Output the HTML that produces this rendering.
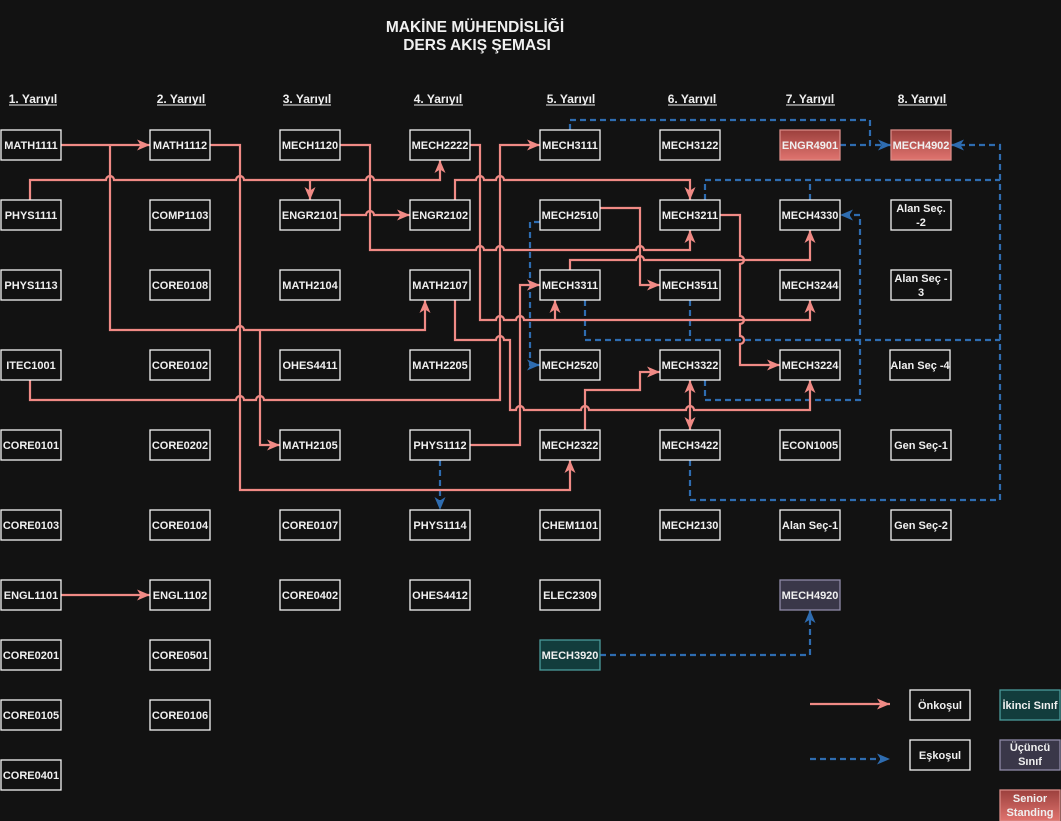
<!DOCTYPE html>
<html>
<head>
<meta charset="utf-8">
<style>
  html,body{margin:0;padding:0;background:#121212;}
  svg{display:block;}
  text{font-family:"Liberation Sans",Arial,sans-serif;font-weight:bold;fill:#f0f0f0;}
</style>
</head>
<body>
<svg width="1061" height="821" viewBox="0 0 1061 821" xmlns="http://www.w3.org/2000/svg">
  <defs>
    <marker id="ap" markerWidth="14" markerHeight="12" refX="13" refY="5.5" orient="auto-start-reverse" markerUnits="userSpaceOnUse">
      <path d="M0,0 L13,5.5 L0,11 L3.5,5.5z" fill="#f08a85"/>
    </marker>
    <marker id="ab" markerWidth="14" markerHeight="12" refX="13" refY="5.5" orient="auto" markerUnits="userSpaceOnUse">
      <path d="M0,0 L13,5.5 L0,11 L3.5,5.5z" fill="#2e6cb0"/>
    </marker>
    <linearGradient id="gr" x1="0" y1="0" x2="0" y2="1">
      <stop offset="0" stop-color="#9c403d"/>
      <stop offset="1" stop-color="#e0746f"/>
    </linearGradient>
  </defs>
  <rect x="0" y="0" width="1061" height="821" fill="#121212"/>

  <!-- Title -->
  <text x="475" y="32" font-size="15.5" text-anchor="middle">MAKİNE MÜHENDİSLİĞİ</text>
  <text x="477" y="50" font-size="15.5" text-anchor="middle">DERS AKIŞ ŞEMASI</text>

  <!-- Headers -->
  <g font-size="12" text-anchor="middle">
    <text x="33" y="103">1. Yarıyıl</text>
    <text x="181" y="103">2. Yarıyıl</text>
    <text x="307" y="103">3. Yarıyıl</text>
    <text x="438" y="103">4. Yarıyıl</text>
    <text x="571" y="103">5. Yarıyıl</text>
    <text x="692" y="103">6. Yarıyıl</text>
    <text x="810" y="103">7. Yarıyıl</text>
    <text x="922" y="103">8. Yarıyıl</text>
  </g>
  <g stroke="#f0f0f0" stroke-width="1">
    <line x1="9" y1="105" x2="57" y2="105"/>
    <line x1="157" y1="105" x2="206" y2="105"/>
    <line x1="283" y1="105" x2="331" y2="105"/>
    <line x1="414" y1="105" x2="463" y2="105"/>
    <line x1="546" y1="105" x2="595" y2="105"/>
    <line x1="668" y1="105" x2="717" y2="105"/>
    <line x1="786" y1="105" x2="835" y2="105"/>
    <line x1="898" y1="105" x2="947" y2="105"/>
  </g>

  <!-- Blue dashed connectors -->
  <g fill="none" stroke="#2e6cb0" stroke-width="2.2" stroke-dasharray="6 4">
    <path d="M570,130 V120 H870 V145 H891" marker-end="url(#ab)"/>
    <path d="M840,145 H870"/>
    <path d="M690,460 V500 H1000 V145 H951" marker-end="url(#ab)"/>
    <path d="M705,200 V180 H1000"/>
    <path d="M810,200 V180"/>
    <path d="M705,380 V400 H860 V215 H840" marker-end="url(#ab)"/>
    <path d="M585,300 V340 H1000"/>
    <path d="M690,300 V340"/>
    <path d="M540,222 H530 V365 H540" marker-end="url(#ab)"/>
    <path d="M530,285 H540" marker-end="url(#ab)"/>
    <path d="M440,460 V510" marker-end="url(#ab)"/>
    <path d="M600,655 H810 V610" marker-end="url(#ab)"/>
    <path d="M810,759 H890" marker-end="url(#ab)"/>
  </g>

  <!-- Pink connectors -->
  <g fill="none" stroke="#f08a85" stroke-width="2.2">
    <path d="M61,145 H150" marker-end="url(#ap)"/>
    <path d="M110,145 V330 H236 a4,4 0 0 1 8,0 H425 V300" marker-end="url(#ap)"/>
    <path d="M260,330 V445 H280" marker-end="url(#ap)"/>
    <path d="M30,200 V180 H106 a4,4 0 0 1 8,0 H236 a4,4 0 0 1 8,0 H366 a4,4 0 0 1 8,0 H440 V160" marker-end="url(#ap)"/>
    <path d="M310,180 V200" marker-end="url(#ap)"/>
    <path d="M340,145 H370 V250 H476 a4,4 0 0 1 8,0 H496 a4,4 0 0 1 8,0 H636 a4,4 0 0 1 8,0 H690 V230" marker-end="url(#ap)"/>
    <path d="M340,215 H366 a4,4 0 0 1 8,0 H410" marker-end="url(#ap)"/>
    <path d="M210,145 H240 V490 H570 V460" marker-end="url(#ap)"/>
    <path d="M30,380 V400 H236 a4,4 0 0 1 8,0 H256 a4,4 0 0 1 8,0 H500 V145 H540" marker-end="url(#ap)"/>
    <path d="M470,145 H480 V320 H496 a4,4 0 0 1 8,0 H516 a4,4 0 0 1 8,0 H810 V300" marker-end="url(#ap)"/>
    <path d="M555,320 V300" marker-end="url(#ap)"/>
    <path d="M455,200 V180 H476 a4,4 0 0 1 8,0 H496 a4,4 0 0 1 8,0 H690 V200" marker-end="url(#ap)"/>
    <path d="M600,208 H640 V285 H660" marker-end="url(#ap)"/>
    <path d="M570,270 V260 H636 a4,4 0 0 1 8,0 H810 V230" marker-end="url(#ap)"/>
    <path d="M720,215 H740 V256 a4,4 0 0 1 0,8 V316 a4,4 0 0 1 0,8 V336 a4,4 0 0 1 0,8 V365 H780" marker-end="url(#ap)"/>
    <path d="M455,300 V340 H496 a4,4 0 0 1 8,0 H510 V410 H516 a4,4 0 0 1 8,0 H581 a4,4 0 0 1 8,0 H686 a4,4 0 0 1 8,0 H810 V380" marker-end="url(#ap)"/>
    <path d="M470,445 H520 V285 H540" marker-end="url(#ap)"/>
    <path d="M585,430 V390 H640 V372 H660" marker-end="url(#ap)"/>
    <path d="M690,380 V430" marker-start="url(#ap)" marker-end="url(#ap)"/>
    <path d="M61,595 H150" marker-end="url(#ap)"/>
    <path d="M810,704 H890" marker-end="url(#ap)"/>
  </g>

  <!-- Boxes -->
  <g fill="#121212" stroke="#f4f4f4" stroke-width="1.3">
    <rect x="1" y="130" width="60" height="30"/>
    <rect x="1" y="200" width="60" height="30"/>
    <rect x="1" y="270" width="60" height="30"/>
    <rect x="1" y="350" width="60" height="30"/>
    <rect x="1" y="430" width="60" height="30"/>
    <rect x="1" y="510" width="60" height="30"/>
    <rect x="1" y="580" width="60" height="30"/>
    <rect x="1" y="640" width="60" height="30"/>
    <rect x="1" y="700" width="60" height="30"/>
    <rect x="1" y="760" width="60" height="30"/>
    <rect x="150" y="130" width="60" height="30"/>
    <rect x="150" y="200" width="60" height="30"/>
    <rect x="150" y="270" width="60" height="30"/>
    <rect x="150" y="350" width="60" height="30"/>
    <rect x="150" y="430" width="60" height="30"/>
    <rect x="150" y="510" width="60" height="30"/>
    <rect x="150" y="580" width="60" height="30"/>
    <rect x="150" y="640" width="60" height="30"/>
    <rect x="150" y="700" width="60" height="30"/>
    <rect x="280" y="130" width="60" height="30"/>
    <rect x="280" y="200" width="60" height="30"/>
    <rect x="280" y="270" width="60" height="30"/>
    <rect x="280" y="350" width="60" height="30"/>
    <rect x="280" y="430" width="60" height="30"/>
    <rect x="280" y="510" width="60" height="30"/>
    <rect x="280" y="580" width="60" height="30"/>
    <rect x="410" y="130" width="60" height="30"/>
    <rect x="410" y="200" width="60" height="30"/>
    <rect x="410" y="270" width="60" height="30"/>
    <rect x="410" y="350" width="60" height="30"/>
    <rect x="410" y="430" width="60" height="30"/>
    <rect x="410" y="510" width="60" height="30"/>
    <rect x="410" y="580" width="60" height="30"/>
    <rect x="540" y="130" width="60" height="30"/>
    <rect x="540" y="200" width="60" height="30"/>
    <rect x="540" y="270" width="60" height="30"/>
    <rect x="540" y="350" width="60" height="30"/>
    <rect x="540" y="430" width="60" height="30"/>
    <rect x="540" y="510" width="60" height="30"/>
    <rect x="540" y="580" width="60" height="30"/>
    <rect x="660" y="130" width="60" height="30"/>
    <rect x="660" y="200" width="60" height="30"/>
    <rect x="660" y="270" width="60" height="30"/>
    <rect x="660" y="350" width="60" height="30"/>
    <rect x="660" y="430" width="60" height="30"/>
    <rect x="660" y="510" width="60" height="30"/>
    <rect x="780" y="200" width="60" height="30"/>
    <rect x="780" y="270" width="60" height="30"/>
    <rect x="780" y="350" width="60" height="30"/>
    <rect x="780" y="430" width="60" height="30"/>
    <rect x="780" y="510" width="60" height="30"/>
    <rect x="891" y="200" width="60" height="30"/>
    <rect x="891" y="270" width="60" height="30"/>
    <rect x="890" y="350" width="60" height="30"/>
    <rect x="891" y="430" width="60" height="30"/>
    <rect x="891" y="510" width="60" height="30"/>
    <rect x="910" y="690" width="60" height="30"/>
    <rect x="910" y="740" width="60" height="30"/>
  </g>
  <g stroke-width="1.3">
    <rect x="780" y="130" width="60" height="30" fill="url(#gr)" stroke="#d98a86"/>
    <rect x="891" y="130" width="60" height="30" fill="url(#gr)" stroke="#d98a86"/>
    <rect x="1000" y="790" width="60" height="31" fill="url(#gr)" stroke="#d98a86"/>
    <rect x="780" y="580" width="60" height="30" fill="#3a3749" stroke="#8f8aa8"/>
    <rect x="1000" y="740" width="60" height="30" fill="#3a3749" stroke="#8f8aa8"/>
    <rect x="540" y="640" width="60" height="30" fill="#123c3c" stroke="#4a9a9a"/>
    <rect x="1000" y="690" width="60" height="30" fill="#123c3c" stroke="#4a9a9a"/>
  </g>

  <!-- Box labels -->
  <g font-size="11" text-anchor="middle">
    <text x="31" y="149">MATH1111</text>
    <text x="31" y="219">PHYS1111</text>
    <text x="31" y="289">PHYS1113</text>
    <text x="31" y="369">ITEC1001</text>
    <text x="31" y="449">CORE0101</text>
    <text x="31" y="529">CORE0103</text>
    <text x="31" y="599">ENGL1101</text>
    <text x="31" y="659">CORE0201</text>
    <text x="31" y="719">CORE0105</text>
    <text x="31" y="779">CORE0401</text>

    <text x="180" y="149">MATH1112</text>
    <text x="180" y="219">COMP1103</text>
    <text x="180" y="289">CORE0108</text>
    <text x="180" y="369">CORE0102</text>
    <text x="180" y="449">CORE0202</text>
    <text x="180" y="529">CORE0104</text>
    <text x="180" y="599">ENGL1102</text>
    <text x="180" y="659">CORE0501</text>
    <text x="180" y="719">CORE0106</text>

    <text x="310" y="149">MECH1120</text>
    <text x="310" y="219">ENGR2101</text>
    <text x="310" y="289">MATH2104</text>
    <text x="310" y="369">OHES4411</text>
    <text x="310" y="449">MATH2105</text>
    <text x="310" y="529">CORE0107</text>
    <text x="310" y="599">CORE0402</text>

    <text x="440" y="149">MECH2222</text>
    <text x="440" y="219">ENGR2102</text>
    <text x="440" y="289">MATH2107</text>
    <text x="440" y="369">MATH2205</text>
    <text x="440" y="449">PHYS1112</text>
    <text x="440" y="529">PHYS1114</text>
    <text x="440" y="599">OHES4412</text>

    <text x="570" y="149">MECH3111</text>
    <text x="570" y="219">MECH2510</text>
    <text x="570" y="289">MECH3311</text>
    <text x="570" y="369">MECH2520</text>
    <text x="570" y="449">MECH2322</text>
    <text x="570" y="529">CHEM1101</text>
    <text x="570" y="599">ELEC2309</text>
    <text x="570" y="659">MECH3920</text>

    <text x="690" y="149">MECH3122</text>
    <text x="690" y="219">MECH3211</text>
    <text x="690" y="289">MECH3511</text>
    <text x="690" y="369">MECH3322</text>
    <text x="690" y="449">MECH3422</text>
    <text x="690" y="529">MECH2130</text>

    <text x="810" y="149">ENGR4901</text>
    <text x="810" y="219">MECH4330</text>
    <text x="810" y="289">MECH3244</text>
    <text x="810" y="369">MECH3224</text>
    <text x="810" y="449">ECON1005</text>
    <text x="810" y="529">Alan Seç-1</text>
    <text x="810" y="599">MECH4920</text>

    <text x="921" y="149">MECH4902</text>
    <text x="921" y="212">Alan Seç.</text>
    <text x="921" y="226">-2</text>
    <text x="921" y="282">Alan Seç -</text>
    <text x="921" y="296">3</text>
    <text x="920" y="369">Alan Seç -4</text>
    <text x="921" y="449">Gen Seç-1</text>
    <text x="921" y="529">Gen Seç-2</text>

    <text x="940" y="709">Önkoşul</text>
    <text x="940" y="759">Eşkoşul</text>
    <text x="1030" y="709">İkinci Sınıf</text>
    <text x="1030" y="751">Üçüncü</text>
    <text x="1030" y="765">Sınıf</text>
    <text x="1030" y="802">Senior</text>
    <text x="1030" y="816">Standing</text>
  </g>
</svg>
</body>
</html>
